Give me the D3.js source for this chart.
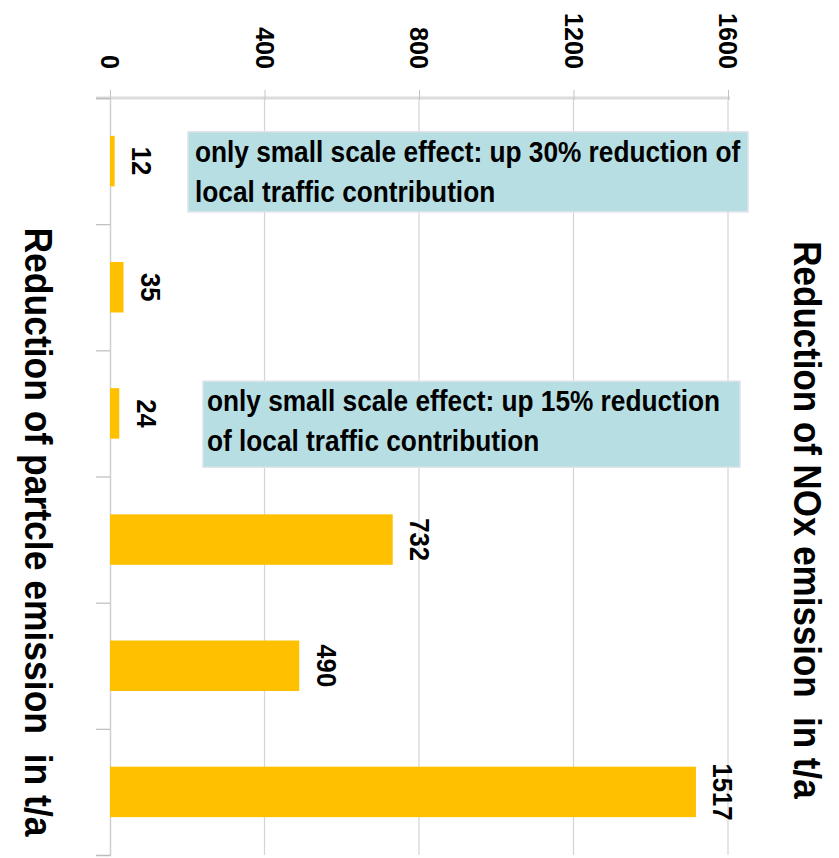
<!DOCTYPE html>
<html>
<head>
<meta charset="utf-8">
<script src="https://cdn.jsdelivr.net/npm/d3@7"></script>
<style>
  html, body { margin: 0; padding: 0; background: #ffffff; }
  svg text { font-family: "Liberation Sans", Arial, Helvetica, sans-serif; font-weight: bold; fill: #000; white-space: pre; }
</style>
</head>
<body>
<svg id="chart" width="839" height="858"></svg>
<script>
// Emission-reduction measures (one bar each)
const measures = ["M1", "M2", "M3", "M4", "M5", "M6"];
const reductions = [12, 35, 24, 732, 490, 1517];
const valueTicks = [0, 400, 800, 1200, 1600];
const leftTitle = "Reduction of partcle emission  in t/a";
const rightTitle = "Reduction of NOx emission  in t/a";
const noteMeasures = ["M1", "M3"];
const noteLines = [
  ["only small scale effect: up 30% reduction of", "local traffic contribution"],
  ["only small scale effect: up 15% reduction", "of local traffic contribution"]
];

const svg = d3.select("#chart");
const plotTop = 98, plotBottom = 855, plotLeft = 110, plotRight = 728;

const x = d3.scaleLinear().domain([0, 1600]).range([plotLeft, plotRight]);
const y = d3.scaleBand().domain(measures).range([plotTop, plotBottom])
  .paddingInner(0.6).paddingOuter(0.3);
const boundary = d3.scaleLinear().domain([0, measures.length]).range([plotTop, plotBottom]);

// vertical gridlines
svg.append("g")
  .selectAll("line")
  .data(valueTicks.filter(v => v > 0))
  .join("line")
  .attr("x1", d => x(d)).attr("x2", d => x(d))
  .attr("y1", plotTop).attr("y2", plotBottom)
  .attr("stroke", "#d4d4d4").attr("stroke-width", 1.2);

// value axis along the top
const xAxis = svg.append("g")
  .attr("transform", `translate(0,${plotTop})`)
  .call(d3.axisTop(x).tickValues(valueTicks).tickFormat(d3.format("d")).tickSize(8).tickSizeOuter(0));
xAxis.select(".domain").attr("stroke", "#dcdcdc").attr("stroke-width", 3)
  .attr("d", `M${plotLeft - 14},0H${plotRight + 2}`);
xAxis.selectAll(".tick line").attr("stroke", "#c4c4c4").attr("y2", -8).attr("y1", 2);
xAxis.selectAll(".tick text")
  .attr("x", null).attr("y", null).attr("dy", "0.36em")
  .attr("transform", "translate(0,-29) rotate(90) scale(0.97,1)")
  .attr("text-anchor", "end")
  .style("font-size", "26px");

// category axis along the left
const cAxis = svg.append("g")
  .attr("transform", `translate(${plotLeft},0)`)
  .call(d3.axisLeft(boundary).ticks(measures.length).tickSize(14).tickFormat(""));
cAxis.select(".domain").attr("stroke", "#cfcfcf").attr("stroke-width", 1.5);
cAxis.selectAll(".tick line").attr("stroke", "#bdbdbd").attr("stroke-width", 1.2);

// bars
svg.append("g")
  .selectAll("rect")
  .data(measures)
  .join("rect")
  .attr("x", x(0))
  .attr("y", d => y(d))
  .attr("width", (d, i) => x(reductions[i]) - x(0))
  .attr("height", y.bandwidth())
  .attr("fill", "#FFC000");

// value labels
svg.append("g")
  .selectAll("text")
  .data(measures)
  .join("text")
  .attr("transform", (d, i) => `translate(${x(reductions[i]) + 27},${y(d) + y.bandwidth() / 2}) rotate(90) scale(0.95,1)`)
  .attr("text-anchor", "middle")
  .attr("dy", "0.36em")
  .style("font-size", "27px")
  .text((d, i) => reductions[i]);

// notes
const noteBoxes = [
  { x0: 188, x1: 748, dy0: -4, dy1: 76, tx: 195 },
  { x0: 203, x1: 740, dy0: -7, dy1: 79, tx: 207 }
];
noteMeasures.forEach((m, k) => {
  const b = noteBoxes[k];
  const g = svg.append("g");
  const y0 = y(m) + b.dy0, y1 = y(m) + b.dy1;
  g.append("rect")
    .attr("x", b.x0).attr("y", y0)
    .attr("width", b.x1 - b.x0).attr("height", y1 - y0)
    .attr("fill", "#b7dfe3")
    .attr("stroke", "#dde2ea").attr("stroke-width", 1.5);
  g.selectAll("text")
    .data(noteLines[k])
    .join("text")
    .attr("transform", (d, j) => `translate(${b.tx},${y0 + 30 + j * 40}) scale(0.905,1)`)
    .style("font-size", "29px")
    .text(d => d);
});

// axis titles
svg.append("text")
  .attr("transform", `translate(39,532) rotate(90) scale(0.91,1)`)
  .attr("text-anchor", "middle").attr("dy", "0.36em")
  .style("font-size", "39px")
  .text(leftTitle);
svg.append("text")
  .attr("transform", `translate(808,520) rotate(90) scale(0.92,1)`)
  .attr("text-anchor", "middle").attr("dy", "0.36em")
  .style("font-size", "38px")
  .text(rightTitle);
</script>
</body>
</html>
